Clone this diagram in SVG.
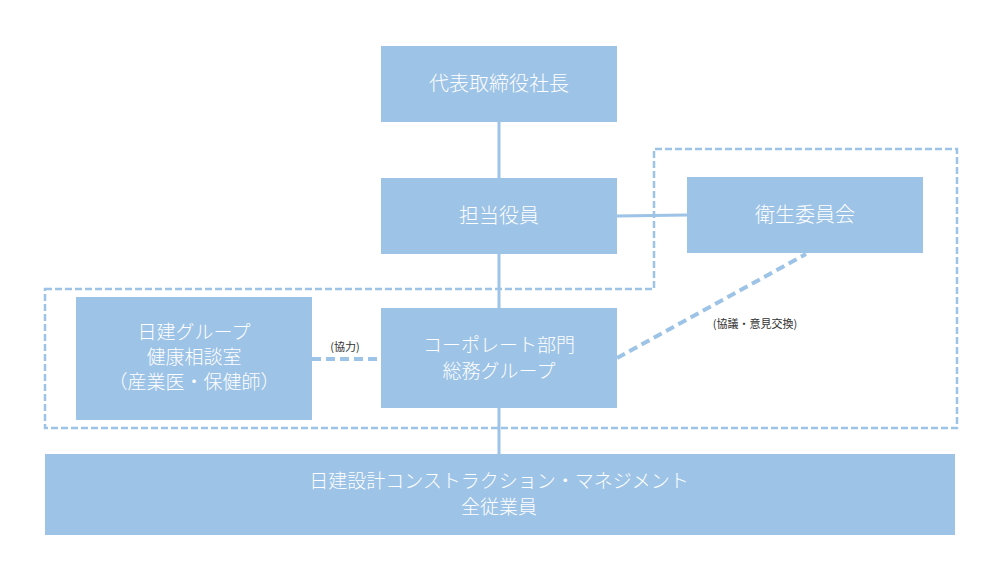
<svg xmlns="http://www.w3.org/2000/svg" width="1000" height="562" viewBox="0 0 1000 562">
<style>
.box{fill:#9dc3e6;}
.t{font-family:"Noto Sans CJK JP","Noto Sans",sans-serif;font-weight:300;fill:#ffffff;text-anchor:middle;font-size:20px;}
.m{font-size:19px;}
.s{font-family:"Noto Sans CJK JP","Noto Sans",sans-serif;fill:#333333;text-anchor:middle;font-size:11px;}
.ln{stroke:#9dc3e6;stroke-width:3;fill:none;}
.dash{stroke:#9dc3e6;stroke-width:4;fill:none;stroke-dasharray:9 5;}
.frame{stroke:#9dc3e6;stroke-width:2.5;fill:none;stroke-dasharray:7 3;}
</style>
<rect width="1000" height="562" fill="#ffffff"/>
<g id="frames">
<path class="frame" d="M45,289 H654 V149 H957 V428 H45 Z"/>
</g>
<g id="connectors">
<line class="ln" x1="499" y1="122" x2="499" y2="178"/>
<line class="ln" x1="499" y1="254" x2="499" y2="308"/>
<line class="ln" x1="499" y1="408" x2="499" y2="454"/>
<line class="ln" x1="617" y1="216" x2="687" y2="215"/>
<line class="dash" x1="312" y1="359" x2="381" y2="359"/>
<line class="dash" x1="617" y1="358" x2="806" y2="254"/>
<text class="s" x="345" y="351">(協力)</text>
<text class="s" x="755" y="328">(協議・意見交換)</text>
</g>
<g id="president">
<rect class="box" x="381" y="46" width="236" height="76"/>
<text class="t" x="499" y="91">代表取締役社長</text>
</g>
<g id="officer">
<rect class="box" x="381" y="178" width="236" height="76"/>
<text class="t" x="499" y="223">担当役員</text>
</g>
<g id="committee">
<rect class="box" x="687" y="177" width="236" height="76"/>
<text class="t" x="805" y="222">衛生委員会</text>
</g>
<g id="health">
<rect class="box" x="76" y="297" width="236" height="123"/>
<text class="t m" x="194" y="339">日建グループ</text>
<text class="t m" x="194" y="364">健康相談室</text>
<text class="t m" x="194" y="389">（産業医・保健師）</text>
</g>
<g id="corporate">
<rect class="box" x="381" y="308" width="236" height="100"/>
<text class="t m" x="499" y="352">コーポレート部門</text>
<text class="t m" x="499" y="378">総務グループ</text>
</g>
<g id="employees">
<rect class="box" x="45" y="454" width="910" height="81"/>
<text class="t m" x="499" y="488">日建設計コンストラクション・マネジメント</text>
<text class="t m" x="499" y="514">全従業員</text>
</g>
</svg>
